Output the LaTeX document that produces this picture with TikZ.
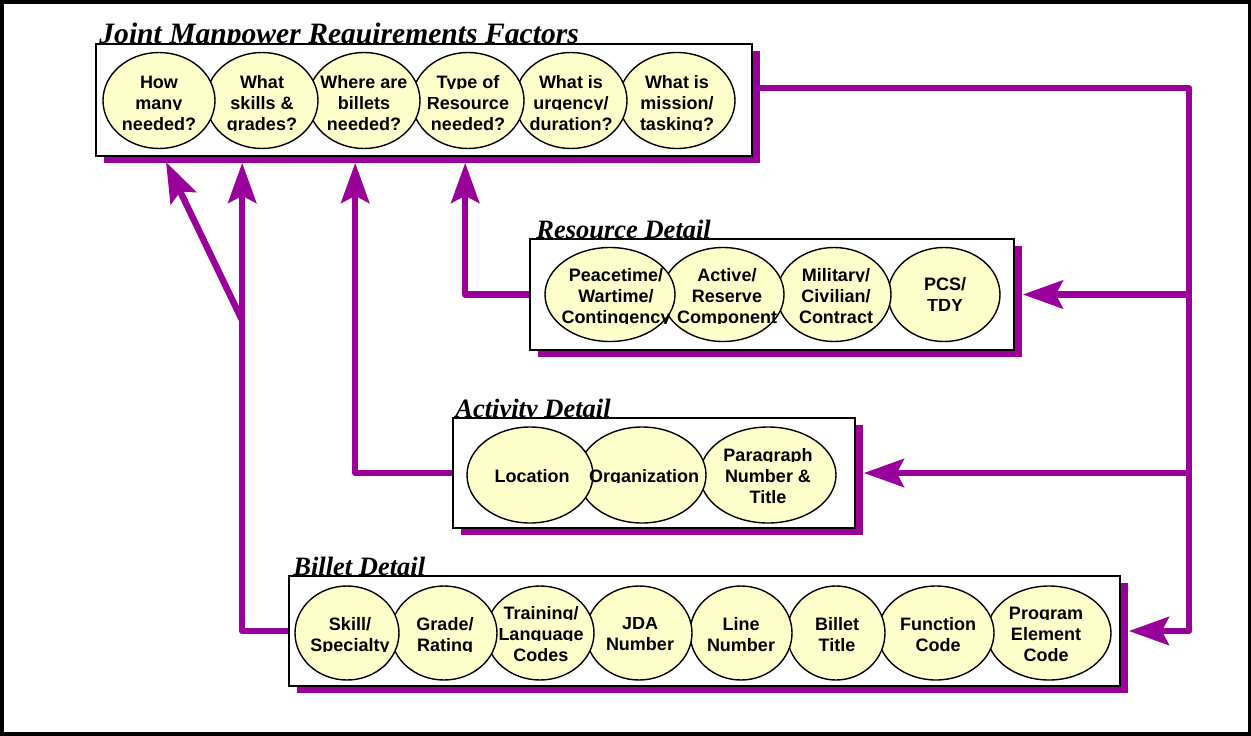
\documentclass[tikz,border=0pt]{standalone}
\usepackage{fontspec}
\setmainfont{Liberation Serif}
\newfontfamily\labelfont{Liberation Sans}
\usepackage{trimclip}
\usetikzlibrary{arrows.meta,shadows,calc,shapes.geometric}

\definecolor{plum}{HTML}{990099}
\definecolor{cream}{HTML}{FFFFCC}

\pgfdeclarelayer{background}
\pgfsetlayers{background,main}

% one line of a label, cut off at its baseline
\newcommand{\cl}[1]{\clipbox{0pt {\depth} 0pt 0pt}{#1}}

\tikzset{
  panel/.style={rectangle, draw=black, line width=1.6pt, fill=white, inner sep=0pt,
    drop shadow={shadow xshift=8pt, shadow yshift=-7pt, fill=plum, opacity=1}},
  item/.style={ellipse, draw=black, line width=1.4pt, fill=cream, inner sep=0pt},
  itemtext/.style={inner sep=0pt, align=center,
    font=\labelfont\bfseries\fontsize{18}{21}\selectfont},
  heading/.style={anchor=base west, inner sep=0pt,
    font=\bfseries\itshape\fontsize{26.5}{30}\selectfont},
  link/.style={draw=plum, line width=6.5pt, line join=round},
  tip/.style={-{Stealth[length=40pt,width=28pt,inset=7pt]}},
  frame/.style={draw=black, line width=4pt}
}

\begin{document}
\begin{tikzpicture}[x=1pt,y=-1pt]
\useasboundingbox (0,0) rectangle (1251,736);

% outer frame
\draw[frame] (2.2,2.2) rectangle (1250,733.5);

% the four panels
\node[panel, minimum width=656, minimum height=112] (jmrf) at (424,100) {};
\node[panel, minimum width=484, minimum height=111] (res) at (772,294.5) {};
\node[panel, minimum width=402, minimum height=110] (act) at (654,473) {};
\node[panel, minimum width=831, minimum height=110] (bil) at (704.5,631) {};

% panel headings (the panels hide their descenders)
\begin{pgfonlayer}{background}
\node[heading, font=\bfseries\itshape\fontsize{29.6}{33}\selectfont] (jmrfhead)
  at ($(jmrf.north west)+(4,0.5)$) {Joint Manpower Requirements Factors};
\node[heading] (reshead) at ($(res.north west)+(7,0.5)$) {Resource Detail};
\node[heading] (acthead) at ($(act.north west)+(3,0.5)$) {Activity Detail};
\node[heading] (bilhead) at ($(bil.north west)+(5,0.5)$) {Billet Detail};
\end{pgfonlayer}

% --- Joint Manpower Requirements Factors ---
\node[item, minimum width=116, minimum height=96] (j6) at (677,100.5) {};
\node[item, minimum width=112, minimum height=96] (j5) at (571,100.5) {};
\node[item, minimum width=112, minimum height=96] (j4) at (468,100.5) {};
\node[item, minimum width=112, minimum height=96] (j3) at (364,100.5) {};
\node[item, minimum width=112, minimum height=96] (j2) at (262,100.5) {};
\node[item, minimum width=112, minimum height=96] (j1) at (159,100.5) {};
\node[itemtext] at ($(j1.center)+(0,2.5)$) {\cl{How}\\\cl{many}\\\cl{needed?}};
\node[itemtext] at ($(j2.center)+(0,2.5)$) {\cl{What}\\\cl{skills \&}\\\cl{grades?}};
\node[itemtext] at ($(j3.center)+(0,2.5)$) {\cl{Where are}\\\cl{billets}\\\cl{needed?}};
\node[itemtext] at ($(j4.center)+(0,2.5)$) {\cl{Type of}\\\cl{Resource}\\\cl{needed?}};
\node[itemtext] at ($(j5.center)+(0,2.5)$) {\cl{What is}\\\cl{urgency/}\\\cl{duration?}};
\node[itemtext] at ($(j6.center)+(0,2.5)$) {\cl{What is}\\\cl{mission/}\\\cl{tasking?}};

% --- Resource Detail ---
\node[item, minimum width=112, minimum height=94] (r4) at (944,294.5) {};
\node[item, minimum width=114, minimum height=94] (r3) at (834,294.5) {};
\node[item, minimum width=122, minimum height=94] (r2) at (723,294.5) {};
\node[item, minimum width=130, minimum height=94] (r1) at (610,294.5) {};
\node[itemtext] at ($(r1.center)+(6,1)$) {\cl{Peacetime/}\\\cl{Wartime/}\\\cl{Contingency}};
\node[itemtext] at ($(r2.center)+(4,1)$) {\cl{Active/}\\\cl{Reserve}\\\cl{Component}};
\node[itemtext] at ($(r3.center)+(2,1)$) {\cl{Military/}\\\cl{Civilian/}\\\cl{Contract}};
\node[itemtext] at ($(r4.center)+(1,0)$) {\cl{PCS/}\\\cl{TDY}};

% --- Activity Detail ---
\node[item, minimum width=136, minimum height=96] (a3) at (768,475) {};
\node[item, minimum width=128, minimum height=96] (a2) at (642,475) {};
\node[item, minimum width=126, minimum height=96] (a1) at (530,475) {};
\node[itemtext] at ($(a1.center)+(2,1)$) {\cl{Location}};
\node[itemtext] at ($(a2.center)+(2,1)$) {\cl{Organization}};
\node[itemtext] at ($(a3.center)+(0,1)$) {\cl{Paragraph}\\\cl{Number \&}\\\cl{Title}};

% --- Billet Detail ---
\node[item, minimum width=124, minimum height=94] (b8) at (1049,633) {};
\node[item, minimum width=116, minimum height=94] (b7) at (936,633) {};
\node[item, minimum width=98, minimum height=94] (b6) at (836,633) {};
\node[item, minimum width=102, minimum height=94] (b5) at (741,633) {};
\node[item, minimum width=106, minimum height=94] (b4) at (639,633) {};
\node[item, minimum width=108, minimum height=94] (b3) at (540,633) {};
\node[item, minimum width=106, minimum height=94] (b2) at (444,633) {};
\node[item, minimum width=104, minimum height=94] (b1) at (347,633) {};
\node[itemtext] at ($(b1.center)+(3,1)$) {\cl{Skill/}\\\cl{Specialty}};
\node[itemtext] at ($(b2.center)+(1,1)$) {\cl{Grade/}\\\cl{Rating}};
\node[itemtext] at ($(b3.center)+(1,1)$) {\cl{Training/}\\\cl{Language}\\\cl{Codes}};
\node[itemtext] at ($(b4.center)+(1,1)$) {\cl{JDA}\\\cl{Number}};
\node[itemtext] at ($(b5.center)+(0,1)$) {\cl{Line}\\\cl{Number}};
\node[itemtext] at ($(b6.center)+(1,1)$) {\cl{Billet}\\\cl{Title}};
\node[itemtext] at ($(b7.center)+(2,1)$) {\cl{Function}\\\cl{Code}};
\node[itemtext] at ($(b8.center)+(-3,1)$) {\cl{Program}\\\cl{Element}\\\cl{Code}};

% --- connectors ---
\coordinate (bus) at (1189,88);
\coordinate (jbot) at ($(jmrf.south)+(0,6)$);
\coordinate (rl) at ($(res.west)+(-64,0)$);
\coordinate (al) at ($(act.west)+(-97,0)$);
\coordinate (bl) at ($(bil.west)+(-46,0)$);
\coordinate (fork) at (242,320);
\coordinate (diagtip) at (166,162);

\begin{pgfonlayer}{background}
% distribution bus on the right
\draw[link,tip] ($(jmrf.east)+(0,-12)$) -- (bus) -- (bus |- bil.east) -- ($(bil.east)+(8,0)$);
\draw[link,tip] (bus |- res.east) -- ($(res.east)+(8,0)$);
\draw[link,tip] (bus |- act.east) -- ($(act.east)+(8,0)$);
% feedback to the requirements factors
\draw[link,tip] (res.west) -- (rl) -- (rl |- jbot);
\draw[link,tip] (act.west) -- (al) -- (al |- jbot);
\draw[link,tip] (bil.west) -- (bl) -- (bl |- jbot);
\draw[link,tip] (fork) -- (diagtip);
\end{pgfonlayer}
\end{tikzpicture}
\end{document}
